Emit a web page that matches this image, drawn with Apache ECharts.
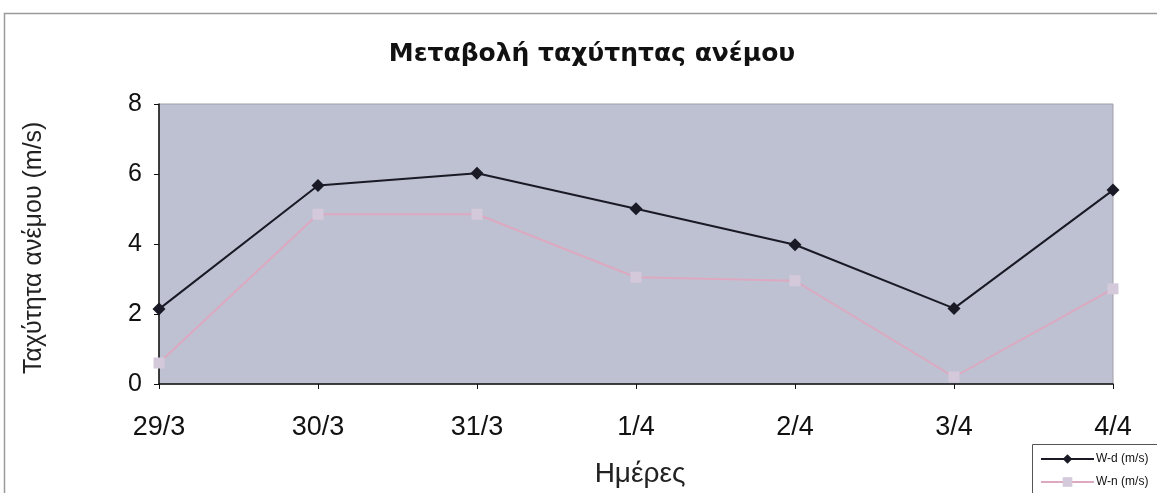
<!DOCTYPE html>
<html>
<head>
<meta charset="utf-8">
<script src="https://cdn.jsdelivr.net/npm/echarts@6/dist/echarts.min.js"></script>
<style>
  html, body { margin: 0; padding: 0; background: #ffffff; }
  #chart { width: 1157px; height: 493px; }
</style>
</head>
<body>
<div id="chart"></div>
<script>
// Days of observation
const days = ['29/3', '30/3', '31/3', '1/4', '2/4', '3/4', '4/4'];
// Daytime wind speed (m/s)
const windDay = [2.14, 5.67, 6.02, 5.01, 3.98, 2.16, 5.54];
// Night-time wind speed (m/s)
const windNight = [0.6, 4.85, 4.85, 3.05, 2.95, 0.2, 2.72];
// Value axis ticks
const yTicks = [0, 2, 4, 6, 8];

const chart = echarts.init(document.getElementById('chart'), null, { renderer: 'canvas' });

const axisFont = '"Liberation Sans", Arial, sans-serif';

chart.setOption({
  animation: false,
  backgroundColor: '#ffffff',
  title: {
    text: 'Μεταβολή ταχύτητας ανέμου',
    left: 587,
    top: 37,
    textAlign: 'center',
    textStyle: {
      fontFamily: '"DejaVu Sans", Verdana, sans-serif',
      fontWeight: 'bold',
      fontSize: 25,
      color: '#111111'
    }
  },
  graphic: [
    {
      // outer chart frame
      type: 'rect',
      shape: { x: 4.5, y: 13.5, width: 1300, height: 600 },
      style: { fill: 'none', stroke: '#9a9a9a', lineWidth: 1.5 },
      silent: true,
      z: -10
    },
    {
      // legend box
      type: 'rect',
      shape: { x: 1032.5, y: 444.5, width: 200, height: 100 },
      style: { fill: '#ffffff', stroke: '#555555', lineWidth: 1 },
      silent: true,
      z: 0
    },
    {
      type: 'text',
      x: 34,
      y: 374,
      rotation: Math.PI / 2,
      style: {
        text: 'Ταχύτητα ανέμου (m/s)',
        fontFamily: axisFont,
        fontSize: 25,
        fill: '#222222',
        textAlign: 'left',
        textVerticalAlign: 'middle'
      }
    }
  ],
  legend: {
    left: 1032,
    top: 444,
    orient: 'vertical',
    itemWidth: 53,
    itemHeight: 12,
    itemGap: 11,
    padding: [9, 10, 0, 8],
    z: 5,
    textStyle: {
      fontFamily: axisFont,
      fontSize: 12,
      color: '#111111',
      padding: [0, 0, 0, -3]
    },
    data: ['W-d (m/s)', 'W-n (m/s)']
  },
  grid: {
    left: 159,
    right: 44,
    top: 104,
    bottom: 109,
    containLabel: false,
    outerBoundsMode: 'none',
    show: true,
    backgroundColor: '#bec1d2',
    borderColor: '#a0a0a8',
    borderWidth: 1
  },
  xAxis: {
    type: 'category',
    data: days,
    boundaryGap: false,
    name: 'Ημέρες',
    nameLocation: 'middle',
    nameGap: 76,
    nameTextStyle: {
      fontFamily: axisFont,
      fontSize: 28,
      color: '#222222',
      padding: [0, 0, 0, 8]
    },
    axisLine: { show: true, lineStyle: { color: '#111111', width: 1.5 } },
    axisTick: { show: true, alignWithLabel: true, length: 5, lineStyle: { color: '#111111' } },
    axisLabel: {
      fontFamily: axisFont,
      fontSize: 27,
      color: '#111111',
      margin: 30
    },
    splitLine: { show: false }
  },
  yAxis: {
    type: 'value',
    min: yTicks[0],
    max: yTicks[yTicks.length - 1],
    interval: yTicks[1] - yTicks[0],
    axisLine: { show: true, lineStyle: { color: '#111111', width: 1.5 } },
    axisTick: { show: true, length: 5, lineStyle: { color: '#111111' } },
    axisLabel: {
      fontFamily: axisFont,
      fontSize: 25,
      color: '#111111',
      margin: 17
    },
    splitLine: { show: false }
  },
  series: [
    {
      name: 'W-d (m/s)',
      type: 'line',
      data: windDay,
      symbol: 'diamond',
      symbolSize: 13,
      lineStyle: { color: '#1a1a26', width: 2 },
      itemStyle: { color: '#1a1a26' },
      z: 3
    },
    {
      name: 'W-n (m/s)',
      type: 'line',
      data: windNight,
      symbol: 'rect',
      symbolSize: 11,
      lineStyle: { color: '#dda9c0', width: 2 },
      itemStyle: { color: '#d4c9da' },
      z: 2
    }
  ]
});
</script>
</body>
</html>
